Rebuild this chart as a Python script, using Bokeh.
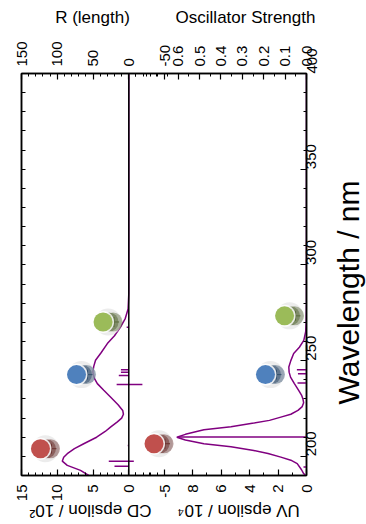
import math
from bokeh.plotting import figure
from bokeh.models import Range1d, LinearAxis, FixedTicker, Label, Span
from bokeh.embed import file_html
from bokeh.resources import INLINE

# Simulated CD spectrum (delta-epsilon / 10^2) vs wavelength
wl_cd = [190, 192.7, 195.3, 197.5, 199.5, 201.4, 204, 206.6, 210, 213, 215.3, 218,
         220, 222, 224, 227, 231, 234.5, 238, 241, 244, 247, 250.2, 254, 258.9, 263,
         267.5, 272, 277, 285, 300, 350, 400]
cd_eps = [5.6, 6.75, 8.6, 9.3, 9.1, 8.6, 7.6, 6.3, 4.5, 3.3, 2.56, 1.6,
          1.0, 0.75, 0.85, 1.5, 2.56, 3.5, 4.4, 4.85, 5.03, 4.9, 4.65, 3.9, 3.0, 2.0,
          1.16, 0.5, 0.1, 0.0, 0.0, 0.0, 0.0]

# Simulated UV spectrum (epsilon / 10^4) vs wavelength
wl_uv = [190, 191, 193, 196.2, 198, 199.6, 201.5, 203.1, 205, 206.6, 208.5, 210,
         211.5, 213.9, 215.5, 217.4, 218.8, 220.5, 222, 224, 226, 228, 230, 232,
         234.5, 238, 241.4, 244, 246.7, 250, 253.7, 257, 260.6, 265, 270, 280, 300, 400]
uv_eps = [0.08, 0.2, 0.35, 0.65, 1.1, 1.8, 2.7, 3.7, 5.3, 7.2, 8.5, 9.1,
          8.5, 7.2, 5.3, 3.7, 2.6, 1.8, 1.1, 0.6, 0.3, 0.2, 0.25, 0.35,
          0.55, 0.85, 1.12, 1.22, 1.24, 1.1, 0.9, 0.5, 0.19, 0.06, 0.02, 0.0, 0.0, 0.0]

# Rotatory strengths (length gauge) as sticks
r_wl = [194.8, 197.5, 197.5, 205.7, 237.5, 237.5, 242.3, 244.0, 245.3, 267.5]
r_len = [20, 28, -7, 1.5, 17, -19, 14, 11, 11, 3]

# Oscillator strengths as sticks
f_wl = [194.4, 210.1, 238.3, 243.2, 245.3]
f_osc = [0.014, 0.6, 0.042, 0.04, 0.045]

# Conformer markers
dot_colors = ["#C0504D", "#4F81BD", "#9BBB59"]
dot_shades = ["#6b3330", "#34506e", "#5a6b3c"]
cd_dot_x = [12.35, 7.31, 3.6]
cd_dot_wl = [204.0, 242.7, 270.2]
uv_dot_x = [10.7, 2.88, 1.54]
uv_dot_wl = [206.6, 242.7, 273.4]

# Tick labels
cd_ticks = [15, 10, 5, 0, -5]
r_ticks = [150, 100, 50, 0, -50]
uv_ticks = [8, 6, 4, 2, 0]
f_ticks = [0.6, 0.5, 0.4, 0.3, 0.2, 0.1, 0.0]
wl_ticks = [200, 250, 300, 350, 400]

PURPLE = "#800080"
FONT = "Liberation Sans"

# Frame geometry and the four horizontal scales sharing it
LEFT, TOP, FRAME_W, FRAME_H = 21, 73, 285, 402
CD_RANGE = (15.0, -24.84)
R_RANGE = (150.0, -248.4)
UV_RANGE = (20.0, 0.0)
F_RANGE = (1.332, 0.0)
WL_RANGE = (190.0, 400.0)


def to_cd(v, rng):
    a, b = rng
    return round(CD_RANGE[0] + (v - a) / (b - a) * (CD_RANGE[1] - CD_RANGE[0]), 6)


def shift(px, rng):
    return px * (rng[1] - rng[0]) / FRAME_W


def px_x(px):
    return CD_RANGE[0] + (px - LEFT) / FRAME_W * (CD_RANGE[1] - CD_RANGE[0])


def px_y(py):
    return WL_RANGE[1] - (py - TOP) / FRAME_H * (WL_RANGE[1] - WL_RANGE[0])


p = figure(frame_width=FRAME_W, frame_height=FRAME_H,
           x_range=Range1d(*CD_RANGE), y_range=Range1d(*WL_RANGE),
           output_backend="svg", toolbar_location=None,
           x_axis_location=None, y_axis_location=None,
           min_border_left=LEFT, min_border_right=366 - LEFT - FRAME_W,
           min_border_top=TOP, min_border_bottom=524 - TOP - FRAME_H)
p.extra_x_ranges = {"r": Range1d(*R_RANGE), "uv": Range1d(*UV_RANGE),
                    "f": Range1d(*F_RANGE)}
p.grid.visible = False
p.outline_line_color = "black"
p.outline_line_width = 1.5
p.background_fill_color = "white"
p.border_fill_color = "white"


def style_axis(ax, standoff):
    ax.axis_line_width = 1.5
    ax.major_tick_in = 6
    ax.major_tick_out = 0
    ax.minor_tick_in = 3
    ax.minor_tick_out = 0
    ax.major_tick_line_width = 1.2
    ax.minor_tick_line_width = 1
    ax.major_label_text_font = FONT
    ax.major_label_text_font_size = "15px"
    ax.major_label_text_color = "black"
    ax.major_label_orientation = math.pi / 2
    ax.major_label_standoff = standoff


# Bottom axis: CD epsilon (left part) and UV epsilon (right part)
b_major, b_labels = [], {}
for v in cd_ticks:
    t = to_cd(v, CD_RANGE)
    b_major.append(t)
    b_labels[t] = str(v)
for v in uv_ticks:
    t = to_cd(v, UV_RANGE)
    b_major.append(t)
    b_labels[t] = str(v)
b_minor = [to_cd(v, CD_RANGE) for v in range(15, -6, -1)] + \
          [to_cd(v, UV_RANGE) for v in range(0, 13)]
bottom = LinearAxis(ticker=FixedTicker(ticks=b_major, minor_ticks=b_minor),
                    major_label_overrides=b_labels)
style_axis(bottom, 9)
p.add_layout(bottom, "below")

# Top axis: rotatory strength (left part) and oscillator strength (right part)
t_major, t_labels = [], {}
for v in r_ticks:
    t = to_cd(v, R_RANGE)
    t_major.append(t)
    t_labels[t] = str(v)
for v in f_ticks:
    t = to_cd(v, F_RANGE)
    t_major.append(t)
    t_labels[t] = f"{v:.1f}"
t_minor = [to_cd(v, R_RANGE) for v in range(150, -51, -10)] + \
          [to_cd(v * 0.05, F_RANGE) for v in range(0, 17)]
top = LinearAxis(ticker=FixedTicker(ticks=t_major, minor_ticks=t_minor),
                 major_label_overrides=t_labels)
style_axis(top, 7)
p.add_layout(top, "above")

# Wavelength axis on the right, bare ticks on the left edge
right = LinearAxis(ticker=FixedTicker(ticks=wl_ticks, minor_ticks=list(range(190, 401, 10))))
style_axis(right, 5)
p.add_layout(right, "right")

left = LinearAxis(ticker=FixedTicker(ticks=list(range(190, 401, 10)), minor_ticks=[]))
style_axis(left, 0)
left.major_tick_in = 4
left.major_label_text_alpha = 0
left.major_label_text_font_size = "1px"
p.add_layout(left, "left")

# Spectra
p.line(cd_eps, wl_cd, line_color=PURPLE, line_width=1.5)
p.line(uv_eps, wl_uv, line_color=PURPLE, line_width=1.5, x_range_name="uv")

# Zero line separating the CD and UV panels
p.add_layout(Span(location=0, dimension="height", line_color="black", line_width=1.5))

# Sticks
p.segment(x0=[0] * len(r_wl), y0=r_wl, x1=r_len, y1=r_wl, x_range_name="r",
          line_color=PURPLE, line_width=1.5)
p.segment(x0=[0] * len(f_wl), y0=f_wl, x1=f_osc, y1=f_wl, x_range_name="f",
          line_color=PURPLE, line_width=1.5)


# Conformer markers with stacked shadows
def draw_dots(xs, ys, rng, rname):
    kw = {} if rname is None else {"x_range_name": rname}
    xs_at = lambda px: [x + shift(px, rng) for x in xs]
    p.scatter(xs_at(5), ys, size=27, fill_color="#e4e4e4", fill_alpha=0.7,
              line_color=None, **kw)
    p.scatter(xs_at(10), ys, size=19, fill_color=dot_shades, fill_alpha=0.45,
              line_color=None, **kw)
    p.scatter(xs_at(6), ys, size=19, fill_color=dot_shades, fill_alpha=0.55,
              line_color=None, **kw)
    p.scatter(xs_at(11), ys, size=10, marker="cross", line_color=dot_shades,
              line_width=1, **kw)
    p.scatter(xs_at(0), ys, size=22, fill_color="white", fill_alpha=0.85,
              line_color=None, **kw)
    p.scatter(xs_at(0), ys, size=19, fill_color=dot_colors, line_color=None, **kw)


draw_dots(cd_dot_x, cd_dot_wl, CD_RANGE, None)
draw_dots(uv_dot_x, uv_dot_wl, UV_RANGE, "uv")

# Axis titles, each in the side panel it belongs to
titles = [
    ("R (length)", 92, 17, 0, "17px", "above"),
    ("Oscillator Strength", 245, 17, 0, "17px", "above"),
    ("CD epsilon / 10\u00b2", 90, 510, math.pi, "17px", "below"),
    ("UV epsilon / 10\u2074", 238, 510, math.pi, "17px", "below"),
    ("Wavelength / nm", 348, 292, math.pi / 2, "30px", "right"),
]
for text, px, py, ang, fs, side in titles:
    p.add_layout(Label(x=px_x(px), y=px_y(py), text=text, angle=ang,
                       text_font=FONT, text_font_size=fs, text_color="black",
                       text_align="center", text_baseline="middle"), side)

open("out.html", "w").write(file_html(p, INLINE))
